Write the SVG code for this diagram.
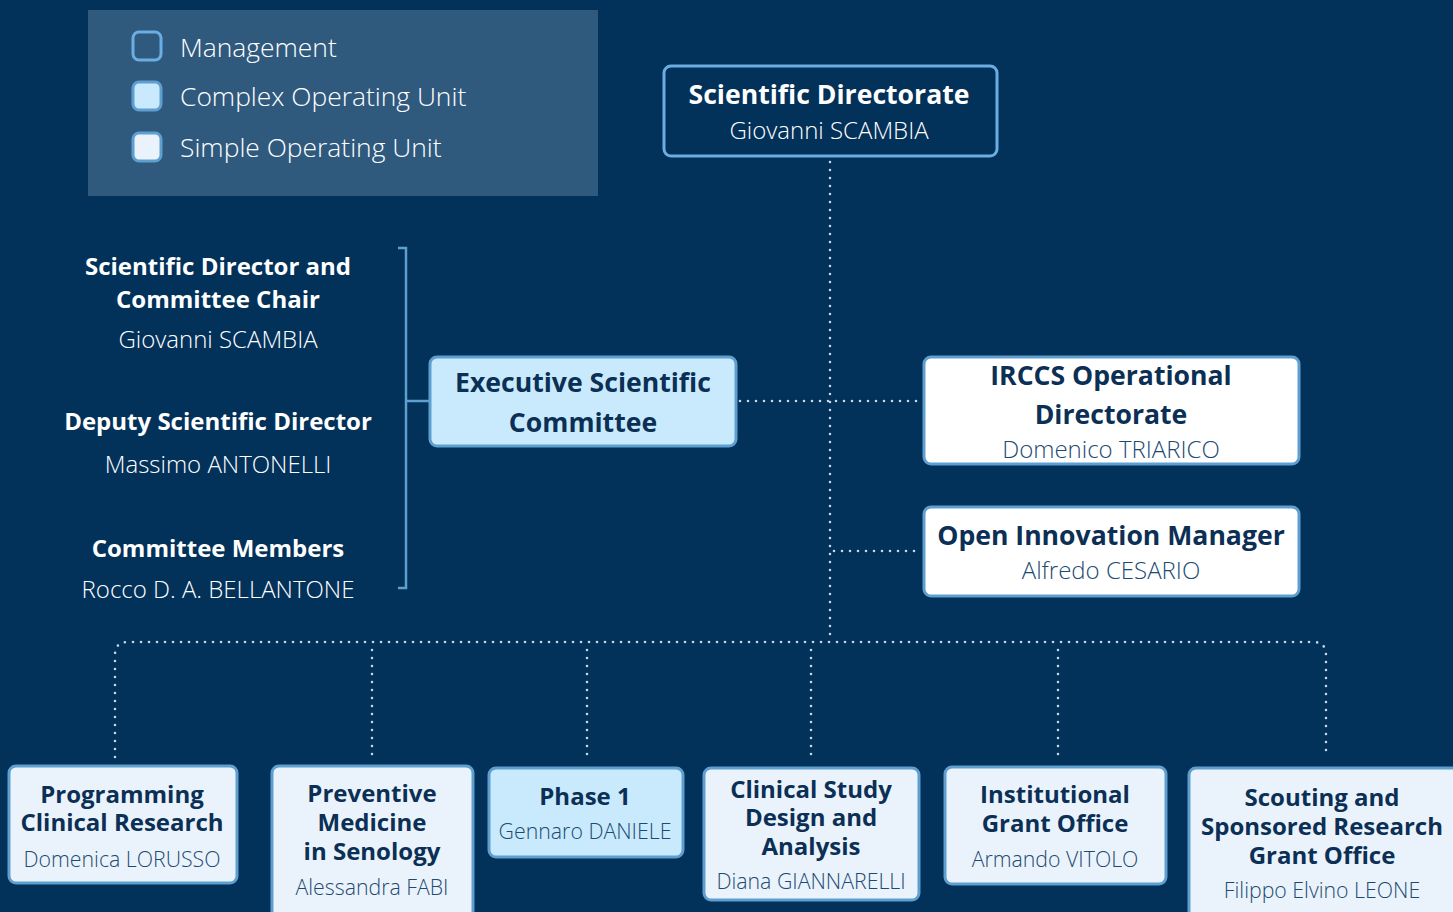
<svg xmlns="http://www.w3.org/2000/svg" width="1453" height="912" viewBox="0 0 1453 912">
<style>
.bg{fill:#02315a}
.box{stroke:#5f9fd0;stroke-width:3}
.mgmt{fill:#02315a;stroke:#6aaee3}
.cou{fill:#c8eafc}
.sou{fill:#eaf3fb}
.wht{fill:#ffffff}
.t{font-family:"Open Sans","Liberation Sans",sans-serif;text-anchor:middle}
.b{font-weight:700;font-size:24px}
.n{font-weight:300;font-size:21.3px}
.big{font-size:26.6px}
.nm{font-size:24px}
.lt{fill:#ffffff}
.dk{fill:#0b2f55}
.nd{fill:#1d4a72}
.dot{fill:none;stroke:#c9d8e6;stroke-width:2.6;stroke-linecap:round;stroke-dasharray:0 8}
.br{fill:none;stroke:#5f9fd0;stroke-width:2.5}
.leg{font-family:"Open Sans","Liberation Sans",sans-serif;font-weight:300;font-size:26.4px;fill:#ffffff}
</style>
<rect class="bg" x="0" y="0" width="1453" height="912"/>
<g id="legend">
<rect x="88" y="10" width="510" height="186" fill="#2f5a7e"/>
<rect x="133" y="32" width="28" height="28" rx="6" fill="#2f5a7e" stroke="#6aaee3" stroke-width="3"/>
<rect x="133" y="82" width="28" height="28" rx="6" fill="#c8eafc" stroke="#5f9fd0" stroke-width="3"/>
<rect x="133" y="133" width="28" height="28" rx="6" fill="#eaf3fb" stroke="#5f9fd0" stroke-width="3"/>
<text class="leg" x="180" y="57">Management</text>
<text class="leg" x="180" y="106">Complex Operating Unit</text>
<text class="leg" x="180" y="157">Simple Operating Unit</text>
</g>
<g id="connectors">
<path class="dot" d="M830 162 V642"/>
<path class="dot" d="M740 401 H918"/>
<path class="dot" d="M834 551 H918"/>
<path class="dot" d="M115 757 V655 Q115 642 128 642 H1313 Q1326 642 1326 655 V757"/>
<path class="dot" d="M372 650 V757"/>
<path class="dot" d="M587 650 V757"/>
<path class="dot" d="M811 650 V757"/>
<path class="dot" d="M1058 650 V757"/>
<path class="br" d="M398 248 H406 V588 H398 M406 401 H430"/>
</g>
<g id="scientific-directorate">
<rect class="box mgmt" x="664" y="66" width="333" height="90" rx="7"/>
<text class="t b big lt" x="829" y="104">Scientific Directorate</text>
<text class="t n nm lt" x="829" y="139">Giovanni SCAMBIA</text>
</g>
<g id="committee-members">
<text class="t b lt" x="218" y="275">Scientific Director and</text>
<text class="t b lt" x="218" y="308">Committee Chair</text>
<text class="t n nm lt" x="218" y="348">Giovanni SCAMBIA</text>
<text class="t b lt" x="218" y="430">Deputy Scientific Director</text>
<text class="t n nm lt" x="218" y="473">Massimo ANTONELLI</text>
<text class="t b lt" x="218" y="557">Committee Members</text>
<text class="t n nm lt" x="218" y="598">Rocco D. A. BELLANTONE</text>
</g>
<g id="executive-committee">
<rect class="box cou" x="430" y="357" width="306" height="89" rx="7"/>
<text class="t b big dk" x="583" y="392">Executive Scientific</text>
<text class="t b big dk" x="583" y="432">Committee</text>
</g>
<g id="irccs">
<rect class="box wht" x="924" y="357" width="375" height="107" rx="7"/>
<text class="t b big dk" x="1111" y="385">IRCCS Operational</text>
<text class="t b big dk" x="1111" y="424">Directorate</text>
<text class="t n nm nd" x="1111" y="458">Domenico TRIARICO</text>
</g>
<g id="open-innovation">
<rect class="box wht" x="924" y="507" width="375" height="89" rx="7"/>
<text class="t b big dk" x="1111" y="545">Open Innovation Manager</text>
<text class="t n nm nd" x="1111" y="579">Alfredo CESARIO</text>
</g>
<g id="programming">
<rect class="box sou" x="9" y="766" width="228" height="117" rx="7"/>
<text class="t b dk" x="122" y="803">Programming</text>
<text class="t b dk" x="122" y="831">Clinical Research</text>
<text class="t n nd" x="122" y="867">Domenica LORUSSO</text>
</g>
<g id="preventive">
<rect class="box sou" x="272" y="766" width="201" height="160" rx="7"/>
<text class="t b dk" x="372" y="802">Preventive</text>
<text class="t b dk" x="372" y="831">Medicine</text>
<text class="t b dk" x="372" y="860">in Senology</text>
<text class="t n nd" x="372" y="895">Alessandra FABI</text>
</g>
<g id="phase1">
<rect class="box cou" x="489" y="768" width="194" height="89" rx="7"/>
<text class="t b dk" x="585" y="805">Phase 1</text>
<text class="t n nd" x="585" y="839">Gennaro DANIELE</text>
</g>
<g id="clinical-study">
<rect class="box sou" x="704" y="768" width="215" height="132" rx="7"/>
<text class="t b dk" x="811" y="798">Clinical Study</text>
<text class="t b dk" x="811" y="826">Design and</text>
<text class="t b dk" x="811" y="855">Analysis</text>
<text class="t n nd" x="811" y="889">Diana GIANNARELLI</text>
</g>
<g id="institutional">
<rect class="box sou" x="945" y="767" width="221" height="117" rx="7"/>
<text class="t b dk" x="1055" y="803">Institutional</text>
<text class="t b dk" x="1055" y="832">Grant Office</text>
<text class="t n nd" x="1055" y="867">Armando VITOLO</text>
</g>
<g id="scouting">
<rect class="box sou" x="1189" y="768" width="290" height="160" rx="7"/>
<text class="t b dk" x="1322" y="806">Scouting and</text>
<text class="t b dk" x="1322" y="835">Sponsored Research</text>
<text class="t b dk" x="1322" y="864">Grant Office</text>
<text class="t n nd" x="1322" y="898">Filippo Elvino LEONE</text>
</g>
</svg>
